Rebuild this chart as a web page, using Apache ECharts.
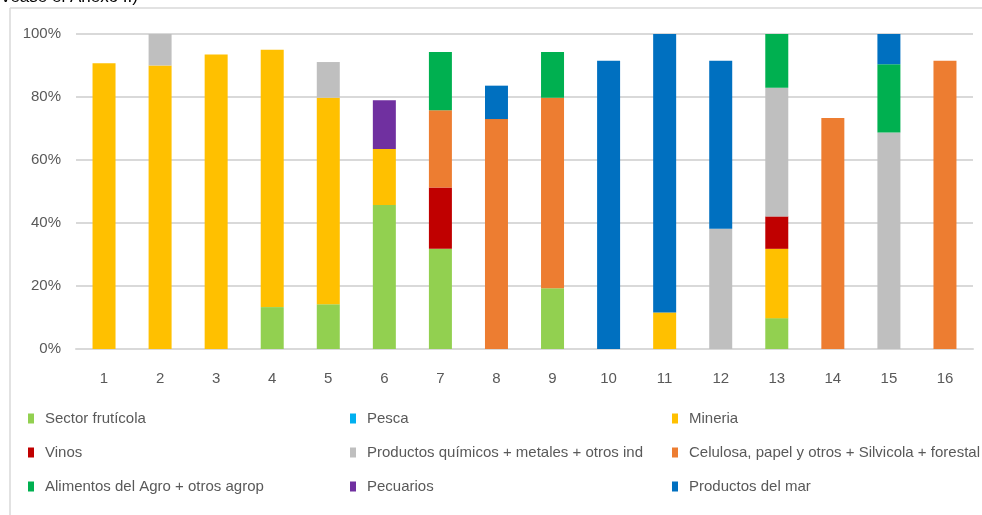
<!DOCTYPE html>
<html>
<head>
<meta charset="utf-8">
<script src="https://cdn.jsdelivr.net/npm/echarts@6/dist/echarts.min.js"></script>
<style>html,body{margin:0;padding:0;background:#fff}#c{width:982px;height:515px}</style>
</head>
<body>
<div id="c"></div>
<script>
var categories = ['1','2','3','4','5','6','7','8','9','10','11','12','13','14','15','16'];
var yTicks = [0, 20, 40, 60, 80, 100];
var sectorFruticola = [null, null, null, 13.3, 14.2, 45.7, 31.8, null, 19.3, null, null, null, 9.8, null, null, null];
var pesca = [null, null, null, null, null, null, null, null, null, null, null, null, null, null, null, null];
var mineria = [90.7, 90.0, 93.5, 81.7, 65.6, 17.8, null, null, null, null, 11.6, null, 22.0, null, null, null];
var vinos = [null, null, null, null, null, null, 19.5, null, null, null, null, null, 10.3, null, null, null];
var quimicos = [null, 10.0, null, null, 11.3, null, null, null, null, null, null, 38.2, 40.8, null, 68.7, null];
var celulosa = [null, null, null, null, null, null, 24.5, 73.0, 60.5, null, null, null, null, 73.3, null, 91.5];
var alimentos = [null, null, null, null, null, null, 18.5, null, 14.5, null, null, null, 17.1, null, 21.7, null];
var pecuarios = [null, null, null, null, null, 15.5, null, null, null, null, null, null, null, null, null, null];
var productosMar = [null, null, null, null, null, null, null, 10.6, null, 91.5, 88.4, 53.3, null, null, 9.6, null];

var seriesDefs = [
  ['Sector frutícola', sectorFruticola, '#92D050'],
  ['Pesca', pesca, '#00B0F0'],
  ['Mineria', mineria, '#FFC000'],
  ['Vinos', vinos, '#C00000'],
  ['Productos químicos + metales + otros ind', quimicos, '#BFBFBF'],
  ['Celulosa, papel y otros + Silvicola + forestal', celulosa, '#ED7D31'],
  ['Alimentos del Agro + otros agrop', alimentos, '#00B050'],
  ['Pecuarios', pecuarios, '#7030A0'],
  ['Productos del mar', productosMar, '#0070C0']
];

var FONT = '"Liberation Sans", Arial, sans-serif';
var TXT = '#595959';

var series = seriesDefs.map(function (d) {
  return {
    name: d[0], type: 'bar', stack: 'total', data: d[1], barWidth: 23,
    itemStyle: { color: d[2] }, emphasis: { disabled: true }
  };
});

function legend(names, left) {
  return {
    data: names, orient: 'vertical', left: left, top: 411, padding: 0,
    icon: 'rect', itemWidth: 6, itemHeight: 10, itemGap: 19,
    textStyle: { fontFamily: FONT, fontSize: 15, color: TXT, lineHeight: 15, padding: [0, 0, 0, 6] },
    selectedMode: false
  };
}

var chart = echarts.init(document.getElementById('c'), null, { renderer: 'canvas' });
chart.setOption({
  animation: false,
  backgroundColor: '#fff',
  graphic: [
    { type: 'line', shape: { x1: 10, y1: 8, x2: 990, y2: 8 }, style: { stroke: '#d9d9d9', lineWidth: 1.5 }, silent: true },
    { type: 'line', shape: { x1: 10, y1: 8, x2: 10, y2: 520 }, style: { stroke: '#d9d9d9', lineWidth: 1.5 }, silent: true },
    { type: 'text', x: 0, y: -11, style: { text: 'Vease el Anexo II)', font: '17px ' + FONT, fill: '#000' }, silent: true }
  ],
  legend: [
    legend(['Sector frutícola', 'Vinos', 'Alimentos del Agro + otros agrop'], 28),
    legend(['Pesca', 'Productos químicos + metales + otros ind', 'Pecuarios'], 350),
    legend(['Mineria', 'Celulosa, papel y otros + Silvicola + forestal', 'Productos del mar'], 672)
  ],
  grid: { left: 76, right: 9, top: 34, bottom: 166 },
  xAxis: {
    type: 'category', data: categories,
    axisLine: { lineStyle: { color: '#d9d9d9', width: 2 } },
    axisTick: { show: false },
    axisLabel: { fontFamily: FONT, fontSize: 15, color: TXT, margin: 22 }
  },
  yAxis: {
    type: 'value', min: yTicks[0], max: yTicks[yTicks.length - 1], interval: 20,
    axisLine: { show: false }, axisTick: { show: false },
    splitLine: { lineStyle: { color: '#d9d9d9', width: 2 } },
    axisLabel: { fontFamily: FONT, fontSize: 15, color: TXT, margin: 15, formatter: '{value}%' }
  },
  series: series
});
</script>
</body>
</html>
